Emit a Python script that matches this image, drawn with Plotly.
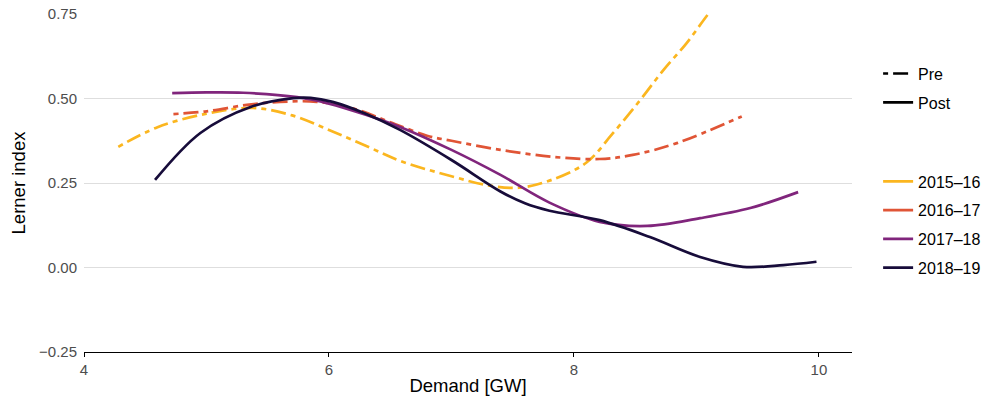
import plotly.graph_objects as go

# Lerner index vs. demand, smoothed per financial year
x_1516 = [4.28, 4.6, 5.0, 5.38, 5.7, 6.0, 6.3, 6.6, 7.0, 7.3, 7.55, 7.8, 8.1, 8.32, 8.54, 8.73, 8.92, 9.09, 9.25]
y_1516 = [0.357, 0.415, 0.455, 0.472, 0.45, 0.407, 0.36, 0.313, 0.27, 0.243, 0.236, 0.257, 0.31, 0.398, 0.495, 0.584, 0.664, 0.747, 0.82]

x_1617 = [4.73, 5.0, 5.33, 5.6, 5.9, 6.2, 6.5, 6.8, 7.0, 7.4, 7.84, 8.21, 8.48, 8.84, 9.37]
y_1617 = [0.454, 0.462, 0.481, 0.49, 0.49, 0.47, 0.43, 0.39, 0.375, 0.348, 0.327, 0.321, 0.333, 0.368, 0.447]

x_1718 = [4.72, 5.0, 5.3, 5.74, 6.0, 6.3, 6.58, 7.0, 7.4, 7.8, 8.21, 8.6, 9.03, 9.44, 9.83]
y_1718 = [0.516, 0.518, 0.517, 0.504, 0.485, 0.452, 0.416, 0.348, 0.274, 0.192, 0.135, 0.123, 0.146, 0.176, 0.223]

x_1819 = [4.58, 4.95, 5.36, 5.71, 5.85, 6.03, 6.3, 6.58, 7.0, 7.4, 7.6, 7.8, 8.21, 8.62, 9.03, 9.38, 9.71, 9.98]
y_1819 = [0.259, 0.398, 0.475, 0.501, 0.502, 0.49, 0.455, 0.407, 0.318, 0.225, 0.19, 0.168, 0.14, 0.09, 0.031, 0.002, 0.007, 0.017]

years = ["2015–16", "2016–17", "2017–18", "2018–19"]
periods = ["Pre", "Pre", "Post", "Post"]
colors = ["#FBB61F", "#E05536", "#80257C", "#170C3A"]
xs = [x_1516, x_1617, x_1718, x_1819]
ys = [y_1516, y_1617, y_1718, y_1819]

x_ticks = [4, 6, 8, 10]
y_ticks = [-0.25, 0.0, 0.25, 0.5, 0.75]
y_tick_text = ["−0.25", "0.00", "0.25", "0.50", "0.75"]

DASH = "5px,5px,15px,5px"
dash_of = {"Pre": DASH, "Post": "solid"}
LW = 2.7

fig = go.Figure()

for name, per, col, x, y in zip(years, periods, colors, xs, ys):
    fig.add_trace(go.Scatter(
        x=x, y=y, mode="lines", line=dict(color=col, width=LW, dash=dash_of[per], shape="spline", smoothing=1.0),
        showlegend=False, hoverinfo="skip",
    ))

# legend: line type (period)
for per in ["Pre", "Post"]:
    fig.add_trace(go.Scatter(
        x=[None], y=[None], mode="lines", name=per, legend="legend",
        legendgroup=per, line=dict(color="black", width=LW, dash=dash_of[per]),
    ))

# legend: colour (year)
for name, col in zip(years, colors):
    fig.add_trace(go.Scatter(
        x=[None], y=[None], mode="lines", name=name, legend="legend2",
        legendgroup=name, line=dict(color=col, width=LW),
    ))

font = "Liberation Sans, Arial, sans-serif"
legend_common = dict(
    font=dict(family=font, size=16, color="black"),
    bgcolor="rgba(0,0,0,0)", borderwidth=0,
    tracegroupgap=5, itemwidth=30,
    xanchor="left", yanchor="top",
)

fig.update_layout(
    width=987, height=402,
    margin=dict(l=84, r=135, t=14, b=50, autoexpand=False),
    paper_bgcolor="white", plot_bgcolor="white",
    font=dict(family=font),
    legend=dict(x=1.034, y=0.874, **legend_common),
    legend2=dict(x=1.034, y=0.555, **legend_common),
    xaxis=dict(
        range=[4, 10.27], tickvals=x_ticks, ticktext=[str(v) for v in x_ticks],
        showgrid=False, zeroline=False, automargin=False,
        showline=True, linecolor="black", linewidth=1.3,
        ticks="outside", ticklen=4, tickcolor="black", tickwidth=1.1,
        tickfont=dict(family=font, size=15, color="#4D4D4D"),
        title=dict(text="Demand [GW]", font=dict(family=font, size=18.5, color="black"), standoff=1),
    ),
    yaxis=dict(
        range=[-0.25, 0.75], tickvals=y_ticks, ticktext=y_tick_text,
        showgrid=True, gridcolor="#DEDEDE", gridwidth=1, zeroline=False, automargin=False,
        showline=False, ticks="", ticklabelstandoff=6,
        tickfont=dict(family=font, size=15, color="#4D4D4D"),
        title=dict(text="Lerner index", font=dict(family=font, size=18.5, color="black"), standoff=8),
    ),
)

fig.write_html("out.html")
